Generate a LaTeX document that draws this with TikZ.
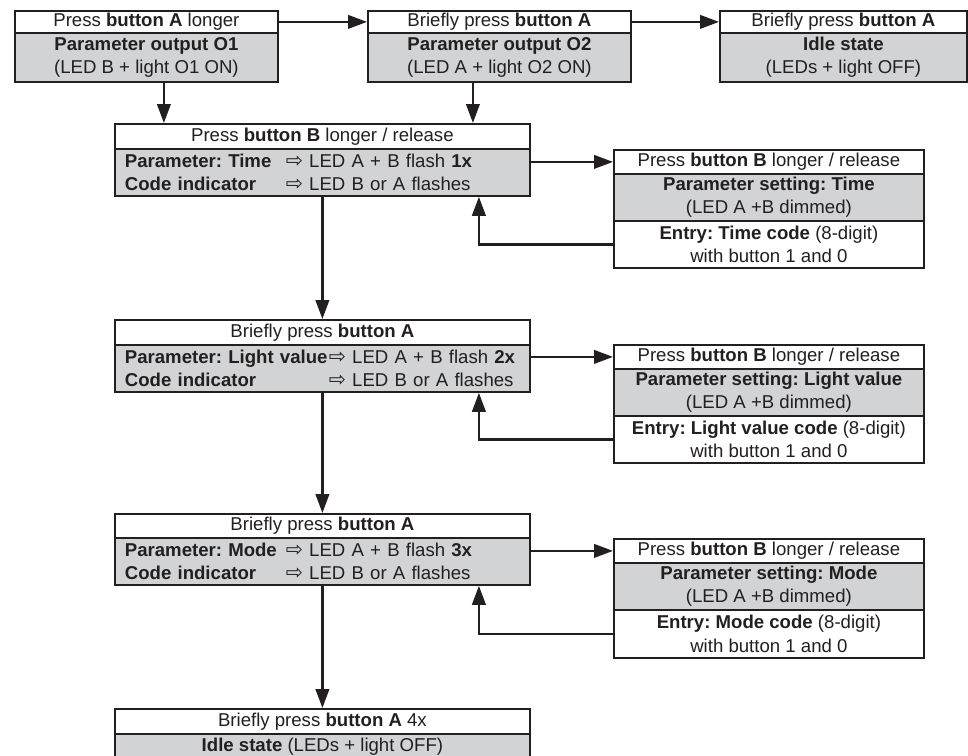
\documentclass[tikz,border=0pt]{standalone}
\usepackage{fontspec}
\setmainfont{Liberation Sans}
\newfontfamily\symfont[Scale=1.1]{DejaVu Sans}
\usetikzlibrary{arrows.meta}
\definecolor{ink}{RGB}{35,31,32}
\definecolor{boxgray}{RGB}{209,211,212}
\newcommand{\wra}{{\symfont ⇨}}
\frenchspacing
\begin{document}
\begin{tikzpicture}[x=1pt,y=-1pt,
  sec/.style={draw=ink, line width=1.8pt, rectangle, inner sep=0pt, anchor=north west, text=ink, font=\fontsize{18.6}{23.5}\selectfont, align=center},
  wh/.style={sec, fill=white},
  gr/.style={sec, fill=boxgray},
  rows/.style={gr, align=left, text width=395pt, inner xsep=10pt},
  conn/.style={draw=ink, line width=2.4pt, -{Triangle[length=19pt,width=13.5pt]}}
]
\useasboundingbox (0,0) rectangle (968,755);
\clip (0,0) rectangle (968,755);

% top row
\node[wh, minimum width=263pt, minimum height=22pt] (b1h) at (14,10) {Press \textbf{button A} longer};
\node[gr, minimum width=263pt, minimum height=49pt] (b1g) at (14,32) {\textbf{Parameter output O1}\\(LED B + light O1 ON)};
\node[wh, minimum width=263pt, minimum height=22pt] (b2h) at (367,10) {Briefly press \textbf{button A}};
\node[gr, minimum width=263pt, minimum height=49pt] (b2g) at (367,32) {\textbf{Parameter output O2}\\(LED A + light O2 ON)};
\node[wh, minimum width=247pt, minimum height=22pt] (b3h) at (719,10) {Briefly press \textbf{button A}};
\node[gr, minimum width=247pt, minimum height=49pt] (b3g) at (719,32) {\textbf{Idle state}\\(LEDs + light OFF)};

% Time
\node[wh, minimum width=415pt, minimum height=25pt] (th) at (114,123) {Press \textbf{button B} longer / release};
\node[rows, minimum width=415pt, minimum height=47pt] (tg) at (114,148) {\mbox{\makebox[161pt][l]{\textbf{Parameter: Time}}\wra{} LED A + B flash \textbf{1x}}\\\mbox{\makebox[161pt][l]{\textbf{Code indicator}}\wra{} LED B or A flashes}};
\node[wh, minimum width=310pt, minimum height=24pt] (tsh) at (613,149) {Press \textbf{button B} longer / release};
\node[gr, minimum width=310pt, minimum height=47pt] (tsg) at (613,173) {\textbf{Parameter setting: Time}\\(LED A +B dimmed)};
\node[wh, minimum width=310pt, minimum height=47pt] (tse) at (613,220) {\textbf{Entry: Time code} (8-digit)\\with button 1 and 0};

% Light value
\node[wh, minimum width=415pt, minimum height=25pt] (lh) at (114,319) {Briefly press \textbf{button A}};
\node[rows, minimum width=415pt, minimum height=47pt] (lg) at (114,344) {\mbox{\makebox[204pt][l]{\textbf{Parameter: Light value}}\wra{} LED A + B flash \textbf{2x}}\\\mbox{\makebox[204pt][l]{\textbf{Code indicator}}\wra{} LED B or A flashes}};
\node[wh, minimum width=310pt, minimum height=24pt] (lsh) at (613,344) {Press \textbf{button B} longer / release};
\node[gr, minimum width=310pt, minimum height=47pt] (lsg) at (613,368) {\textbf{Parameter setting: Light value}\\(LED A +B dimmed)};
\node[wh, minimum width=310pt, minimum height=47pt] (lse) at (613,415) {\textbf{Entry: Light value code} (8-digit)\\with button 1 and 0};

% Mode
\node[wh, minimum width=415pt, minimum height=24pt] (mh) at (114,513) {Briefly press \textbf{button A}};
\node[rows, minimum width=415pt, minimum height=47pt] (mg) at (114,537) {\mbox{\makebox[161pt][l]{\textbf{Parameter: Mode}}\wra{} LED A + B flash \textbf{3x}}\\\mbox{\makebox[161pt][l]{\textbf{Code indicator}}\wra{} LED B or A flashes}};
\node[wh, minimum width=310pt, minimum height=24pt] (msh) at (613,538) {Press \textbf{button B} longer / release};
\node[gr, minimum width=310pt, minimum height=47pt] (msg) at (613,562) {\textbf{Parameter setting: Mode}\\(LED A +B dimmed)};
\node[wh, minimum width=310pt, minimum height=48pt] (mse) at (613,609) {\textbf{Entry: Mode code} (8-digit)\\with button 1 and 0};

% Final
\node[wh, minimum width=415pt, minimum height=25pt] (fh) at (114,708) {Briefly press \textbf{button A} 4x};
\node[gr, minimum width=415pt, minimum height=25pt] (fg) at (114,733) {\textbf{Idle state} (LEDs + light OFF)};

% connectors
\draw[conn] (b1h.east) -- (b2h.west);
\draw[conn] (b2h.east) -- (b3h.west);
\draw[conn] ([xshift=17.5pt]b1g.south) -- ([xshift=17.5pt]b1g.south |- th.north);
\draw[conn] ([xshift=-26.5pt]b2g.south) -- ([xshift=-26.5pt]b2g.south |- th.north);

\draw[conn] (tsh.west -| tg.east) -- (tsh.west);
\draw[conn] (lsh.west -| lg.east) -- (lsh.west);
\draw[conn] (msh.west -| mg.east) -- (msh.west);

\draw[conn] (tse.west) -| ([xshift=156.5pt]tg.south);
\draw[conn] (lse.west) -| ([xshift=156.5pt]lg.south);
\draw[conn] (mse.west) -| ([xshift=156.5pt]mg.south);

\draw[conn] (tg.south) -- (lh.north);
\draw[conn] (lg.south) -- (mh.north);
\draw[conn] (mg.south) -- (fh.north);
\end{tikzpicture}
\end{document}
